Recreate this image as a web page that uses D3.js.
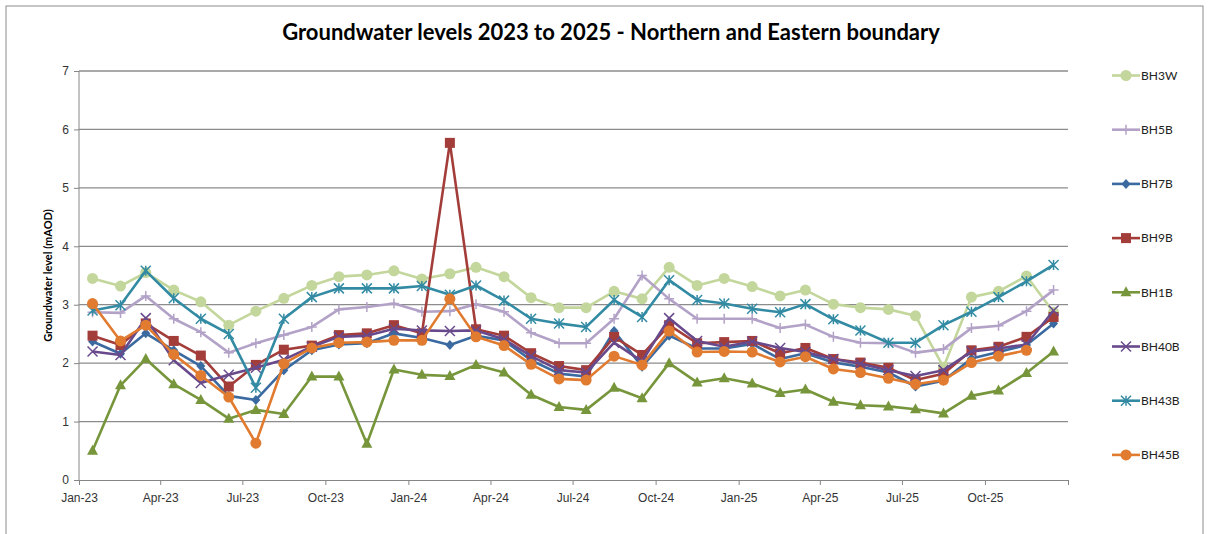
<!DOCTYPE html>
<meta charset="utf-8">
<style>
body { margin: 0; background: #fff; }
svg { font-family: Lato, "Open Sans", sans-serif; }
.axis text { font-size: 12px; fill: #333; }
.axis path, .axis line { stroke: #868686; }
.grid line { stroke: #8c8c8c; stroke-width: 1.3; }
.legend text { font-size: 12px; fill: #222; }
</style>
<svg width="1213" height="534"></svg>
<script src="https://cdn.jsdelivr.net/npm/d3@7"></script>
<script>

// monthly readings, Jan-23 .. Dec-25
var months = d3.timeMonth.range(new Date(2023, 0, 1), new Date(2026, 0, 1));

var seriesNames = ["BH3W", "BH5B", "BH7B", "BH9B", "BH1B", "BH40B", "BH43B", "BH45B"];

var bh3w  = [3.45, 3.32, 3.55, 3.25, 3.05, 2.65, 2.89, 3.11, 3.33, 3.48, 3.51, 3.58, 3.44, 3.53, 3.64, 3.48, 3.12, 2.95, 2.95, 3.23, 3.10, 3.64, 3.33, 3.45, 3.31, 3.15, 3.25, 3.01, 2.95, 2.92, 2.81, 1.93, 3.13, 3.23, 3.49, 2.87];
var bh5b  = [2.87, 2.86, 3.15, 2.76, 2.53, 2.18, 2.34, 2.48, 2.62, 2.92, 2.96, 3.02, 2.88, 2.89, 3.01, 2.88, 2.52, 2.34, 2.34, 2.76, 3.50, 3.10, 2.76, 2.76, 2.76, 2.60, 2.66, 2.45, 2.35, 2.34, 2.18, 2.24, 2.60, 2.64, 2.89, 3.25];
var bh7b  = [2.37, 2.16, 2.51, 2.22, 1.95, 1.44, 1.37, 1.88, 2.22, 2.32, 2.34, 2.51, 2.43, 2.31, 2.47, 2.39, 2.05, 1.82, 1.77, 2.55, 1.94, 2.47, 2.25, 2.25, 2.33, 2.07, 2.17, 2.01, 1.94, 1.84, 1.60, 1.70, 2.08, 2.19, 2.31, 2.68];
var bh9b  = [2.47, 2.31, 2.68, 2.38, 2.13, 1.60, 1.97, 2.23, 2.30, 2.48, 2.51, 2.65, 2.51, 5.77, 2.58, 2.47, 2.17, 1.95, 1.88, 2.45, 2.14, 2.65, 2.34, 2.36, 2.38, 2.17, 2.26, 2.07, 2.01, 1.92, 1.71, 1.82, 2.22, 2.28, 2.45, 2.79];
var bh1b  = [0.50, 1.62, 2.07, 1.64, 1.37, 1.05, 1.20, 1.13, 1.77, 1.77, 0.62, 1.89, 1.80, 1.78, 1.97, 1.84, 1.46, 1.25, 1.20, 1.58, 1.40, 2.00, 1.67, 1.74, 1.65, 1.49, 1.55, 1.34, 1.28, 1.26, 1.21, 1.14, 1.44, 1.53, 1.83, 2.20];
var bh40b = [2.20, 2.14, 2.77, 2.05, 1.66, 1.80, 1.92, 2.06, 2.28, 2.45, 2.47, 2.59, 2.56, 2.55, 2.56, 2.41, 2.12, 1.88, 1.84, 2.35, 2.03, 2.77, 2.38, 2.28, 2.37, 2.26, 2.19, 2.07, 1.99, 1.88, 1.78, 1.88, 2.20, 2.25, 2.32, 2.90];
var bh43b = [2.90, 2.99, 3.58, 3.11, 2.76, 2.50, 1.58, 2.76, 3.13, 3.28, 3.28, 3.28, 3.32, 3.17, 3.33, 3.07, 2.76, 2.68, 2.62, 3.08, 2.79, 3.42, 3.08, 3.02, 2.93, 2.87, 3.01, 2.75, 2.56, 2.35, 2.35, 2.65, 2.88, 3.13, 3.40, 3.68];
var bh45b = [3.02, 2.38, 2.65, 2.15, 1.79, 1.42, 0.63, 1.99, 2.26, 2.35, 2.36, 2.39, 2.39, 3.10, 2.45, 2.30, 1.98, 1.73, 1.71, 2.12, 1.97, 2.55, 2.19, 2.20, 2.19, 2.02, 2.11, 1.90, 1.84, 1.74, 1.64, 1.71, 2.01, 2.12, 2.22, null];

var seriesValues = [bh3w, bh5b, bh7b, bh9b, bh1b, bh40b, bh43b, bh45b];
var seriesColors = ["#c3d69b", "#b3a2c7", "#3b6aa0", "#a33d3a", "#77963c", "#684a8c", "#338ba3", "#e07b30"];
var seriesMarkers = ["circle", "plus", "diamond", "square", "triangle", "x", "star", "circle"];

var yTicks = [0, 1, 2, 3, 4, 5, 6, 7];

var svg = d3.select("svg"),
    margin = {top: 71, right: 145, bottom: 54, left: 79},
    width = 1068 - margin.left,
    height = 480 - margin.top;

// outer chart frame
svg.append("rect")
    .attr("x", 6).attr("y", 6)
    .attr("width", 1197).attr("height", 560)
    .attr("fill", "none")
    .attr("stroke", "#8c8c8c");

svg.append("text")
    .attr("x", 611)
    .attr("y", 40)
    .attr("text-anchor", "middle")
    .style("font-size", "22px")
    .style("font-weight", "bold")
    .text("Groundwater levels 2023 to 2025 - Northern and Eastern boundary");

var x = d3.scaleTime()
    .domain([new Date(2023, 0, 1), new Date(2026, 0, 1)])
    .range([0, width]);
var y = d3.scaleLinear().domain([0, 7]).range([height, 0]);

var g = svg.append("g")
    .attr("transform", "translate(" + margin.left + "," + margin.top + ")");

g.append("g")
    .attr("class", "grid")
    .selectAll("line")
    .data(yTicks.slice(1))
    .enter().append("line")
      .attr("x1", 0).attr("x2", width)
      .attr("y1", function(d) { return y(d); })
      .attr("y2", function(d) { return y(d); });

var lastTick = new Date(2026, 0, 1);
g.append("g")
    .attr("class", "axis axis--x")
    .attr("transform", "translate(0," + height + ")")
    .call(d3.axisBottom(x)
      .tickValues(d3.timeMonth.every(3).range(new Date(2023, 0, 1), new Date(2026, 0, 2)))
      .tickSize(5)
      .tickFormat(function(d) { return +d === +lastTick ? "" : d3.timeFormat("%b-%y")(d); }))
    .call(function(a) { a.selectAll("text").attr("dy", "1.2em"); });

g.append("g")
    .attr("class", "axis axis--y")
    .call(d3.axisLeft(y).tickValues(yTicks).tickSize(5).tickFormat(d3.format("d")))
    .call(function(a) { a.select(".domain").remove(); a.selectAll("text").attr("x", -10); })
    .append("line")
      .attr("stroke", "#868686")
      .attr("y1", 0).attr("y2", height);

svg.append("text")
    .attr("transform", "translate(52," + (margin.top + height / 2) + ") rotate(-90)")
    .attr("text-anchor", "middle")
    .style("font-size", "11px")
    .style("font-weight", "bold")
    .text("Groundwater level (mAOD)");

function px(i) { return x(new Date(months[i].getFullYear(), months[i].getMonth(), 16)); }

function drawMarker(sel, type, color, cx, cy) {
  if (type === "circle") {
    sel.append("circle").attr("cx", cx).attr("cy", cy).attr("r", 5.5).attr("fill", color);
  } else if (type === "square") {
    sel.append("rect").attr("x", cx - 5).attr("y", cy - 5).attr("width", 10).attr("height", 10).attr("fill", color);
  } else if (type === "diamond") {
    sel.append("path").attr("d", "M" + cx + "," + (cy - 5) + "L" + (cx + 4.5) + "," + cy + "L" + cx + "," + (cy + 5) + "L" + (cx - 4.5) + "," + cy + "Z").attr("fill", color);
  } else if (type === "triangle") {
    sel.append("path").attr("d", "M" + cx + "," + (cy - 6) + "L" + (cx + 5.5) + "," + (cy + 4) + "L" + (cx - 5.5) + "," + (cy + 4) + "Z").attr("fill", color);
  } else {
    var d = "";
    if (type === "plus" || type === "star") d += "M" + cx + "," + (cy - 5) + "V" + (cy + 5);
    if (type === "plus") d += "M" + (cx - 5) + "," + cy + "H" + (cx + 5);
    if (type === "x" || type === "star") d += "M" + (cx - 5) + "," + (cy - 5) + "L" + (cx + 5) + "," + (cy + 5) + "M" + (cx - 5) + "," + (cy + 5) + "L" + (cx + 5) + "," + (cy - 5);
    sel.append("path").attr("d", d).attr("stroke", color).attr("stroke-width", 1.5).attr("fill", "none");
  }
}

var line = d3.line()
    .defined(function(d) { return d != null; })
    .x(function(d, i) { return px(i); })
    .y(function(d) { return y(d); });

seriesNames.forEach(function(name, s) {
  var vals = seriesValues[s];
  var sg = g.append("g").attr("class", "series");
  sg.append("path")
      .datum(vals)
      .attr("fill", "none")
      .attr("stroke", seriesColors[s])
      .attr("stroke-width", 2.6)
      .attr("stroke-linejoin", "round")
      .attr("d", line);
  vals.forEach(function(v, i) {
    if (v == null) return;
    drawMarker(sg, seriesMarkers[s], seriesColors[s], px(i), y(v));
  });
});

var legend = svg.append("g").attr("class", "legend");
seriesNames.forEach(function(name, s) {
  var ly = 75.5 + s * 54.2;
  var lg = legend.append("g");
  lg.append("line")
      .attr("x1", 1112).attr("x2", 1140)
      .attr("y1", ly).attr("y2", ly)
      .attr("stroke", seriesColors[s])
      .attr("stroke-width", 2.6);
  drawMarker(lg, seriesMarkers[s], seriesColors[s], 1126, ly);
  lg.append("text")
      .attr("x", 1141)
      .attr("y", ly)
      .attr("dy", "0.35em")
      .text(name);
});

</script>
